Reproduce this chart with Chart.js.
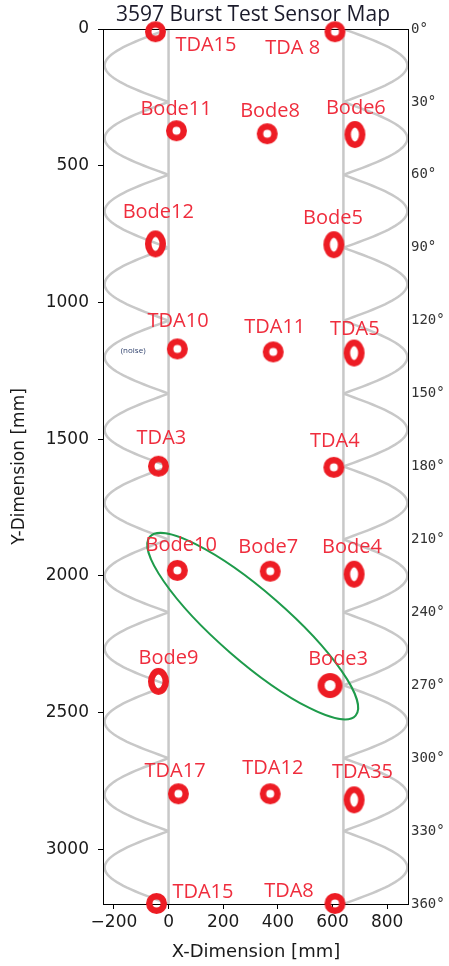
<!DOCTYPE html>
<html>
<head>
<meta charset="utf-8">
<script src="https://cdn.jsdelivr.net/npm/chart.js@4.4.0/dist/chart.umd.min.js"></script>
<style>
  html, body { margin: 0; padding: 0; background: #fff; }
  canvas { display: block; }
</style>
</head>
<body>
<canvas id="map" width="449" height="966"></canvas>
<script>
// ── sensor data [mm] ────────────────────────────────────────
const sensorNames = ['TDA15', 'TDA 8', 'Bode11', 'Bode8', 'Bode6', 'Bode12', 'Bode5', 'TDA10', 'TDA11', 'TDA5',
                     'TDA3', 'TDA4', 'Bode10', 'Bode7', 'Bode4', 'Bode9', 'Bode3', 'TDA17', 'TDA12', 'TDA35',
                     'TDA15', 'TDA8'];
const sensorX = [-48, 609, 29, 361, 682, -48, 605, 32, 383, 679,
                 -37, 605, 32, 372, 679, -37, 591, 36, 372, 679,
                 -44, 609];
const sensorY = [10, 10, 372, 383, 386, 786, 789, 1170, 1181, 1185,
                 1599, 1603, 1980, 1983, 1994, 2386, 2401, 2797, 2797, 2819,
                 3198, 3198];
// where each name is written [mm]
const labelX = [25, 354, -103, 262, 576, -168, 492, -77, 277, 591,
                -117, 518, -84, 255, 562, -110, 511, -88, 270, 598,
                14, 350];
const labelY = [60, 71, 295, 302, 291, 672, 694, 1068, 1090, 1097,
                1496, 1507, 1888, 1895, 1895, 2302, 2306, 2716, 2705, 2720,
                3156, 3152];
const noteText = '(noise)';
const noteX = -175, noteY = 1178;

// axes
const xTicks = [-200, 0, 200, 400, 600, 800];
const yTicks = [0, 500, 1000, 1500, 2000, 2500, 3000];
const degTicks = [0, 30, 60, 90, 120, 150, 180, 210, 240, 270, 300, 330, 360];
const pipeLength = 3200;   // mm  == 360 deg
const railX = [0, 640];    // weld seam rails
const helixReach = 234;    // how far each helix turn bulges out of its rail
const helixStepDeg = 30;

// highlighted group (green ring)
const groupCenter = { x: 308, y: 2184 };
const groupRadii = { a: 499, b: 127 };
const groupAngle = 41;

// marker look
const RED = '#ed1c24';
const tallRings = ['Bode6', 'Bode12', 'Bode5', 'TDA5', 'Bode4', 'Bode9', 'TDA35'];
const bigRings = ['Bode3'];

function ring(w, h, lw) {
  const c = document.createElement('canvas');
  c.width = w + 2; c.height = h + 2;
  const g = c.getContext('2d');
  g.strokeStyle = RED;
  g.lineWidth = lw;
  g.beginPath();
  g.ellipse(c.width / 2, c.height / 2, (w - lw) / 2, (h - lw) / 2, 0, 0, Math.PI * 2);
  g.stroke();
  return c;
}
const roundRing = ring(21, 21, 6.5);
const tallRing = ring(21, 27, 6.5);
const bigRing = ring(25, 25, 7);
const markerStyles = sensorNames.map(n =>
  bigRings.includes(n) ? bigRing : tallRings.includes(n) ? tallRing : roundRing);

// ── plugins ─────────────────────────────────────────────────
const backdrop = {
  id: 'backdrop',
  beforeDatasetsDraw(chart) {
    const { ctx, chartArea: a, scales: { x, y } } = chart;
    ctx.save();
    ctx.beginPath();
    ctx.rect(a.left, a.top, a.right - a.left, a.bottom - a.top);
    ctx.clip();
    ctx.strokeStyle = '#c8c8c8';
    ctx.lineWidth = 2.5;
    // rails
    railX.forEach(rx => {
      const px = x.getPixelForValue(rx);
      ctx.beginPath();
      ctx.moveTo(px, y.getPixelForValue(0));
      ctx.lineTo(px, y.getPixelForValue(pipeLength));
      ctx.stroke();
    });
    // helix turns between the rails' cusps
    const step = pipeLength * helixStepDeg / 360;
    const turns = Math.round(pipeLength / step);
    [[railX[0], -1], [railX[1], 1]].forEach(([rx, dir]) => {
      for (let k = 0; k < turns; k++) {
        ctx.beginPath();
        for (let i = 0; i <= 40; i++) {
          const s = i / 40;
          const px = x.getPixelForValue(rx + dir * helixReach * Math.sin(Math.PI * s));
          const py = y.getPixelForValue(k * step + s * step);
          i ? ctx.lineTo(px, py) : ctx.moveTo(px, py);
        }
        ctx.stroke();
      }
    });
    ctx.restore();
    // frame
    ctx.save();
    ctx.strokeStyle = '#000';
    ctx.lineWidth = 1;
    ctx.strokeRect(a.left + 0.5, a.top + 0.5, a.right - a.left - 1, a.bottom - a.top);
    ctx.restore();
  },
  afterDatasetsDraw(chart) {
    const { ctx, chartArea: a, scales: { x, y } } = chart;
    ctx.save();
    // group ring
    const sx = Math.abs(x.getPixelForValue(1) - x.getPixelForValue(0));
    const sy = Math.abs(y.getPixelForValue(1) - y.getPixelForValue(0));
    ctx.strokeStyle = '#1e9b4b';
    ctx.lineWidth = 2;
    ctx.beginPath();
    ctx.ellipse(x.getPixelForValue(groupCenter.x), y.getPixelForValue(groupCenter.y),
                groupRadii.a * sx, groupRadii.b * sy, groupAngle * Math.PI / 180, 0, Math.PI * 2);
    ctx.stroke();
    // names
    ctx.font = '20px "Open Sans"';
    ctx.fillStyle = '#ef2d3d';
    ctx.textAlign = 'left';
    ctx.textBaseline = 'middle';
    sensorNames.forEach((n, i) => {
      ctx.fillText(n, x.getPixelForValue(labelX[i]), y.getPixelForValue(labelY[i]));
    });
    ctx.font = '8px "Open Sans"';
    ctx.fillStyle = '#2d3f6b';
    ctx.fillText(noteText, x.getPixelForValue(noteX), y.getPixelForValue(noteY));
    // title
    ctx.font = '21px "Open Sans"';
    ctx.fillStyle = '#1b1b2b';
    ctx.textAlign = 'center';
    ctx.fillText('3597 Burst Test Sensor Map', (a.left + a.right) / 2 - 3, 15);
    ctx.restore();
  }
};

const tickFont = { family: 'DejaVu Sans', size: 17 };

new Chart(document.getElementById('map'), {
  type: 'scatter',
  data: {
    datasets: [{
      data: sensorX.map((v, i) => ({ x: v, y: sensorY[i] })),
      pointStyle: markerStyles,
      pointRadius: 10,
      pointHoverRadius: 10,
      clip: false
    }]
  },
  options: {
    responsive: false,
    devicePixelRatio: 1,
    animation: false,
    layout: { padding: { top: 29, left: 0, right: 0, bottom: 0 } },
    plugins: { legend: { display: false }, tooltip: { enabled: false }, title: { display: false } },
    scales: {
      x: {
        type: 'linear', position: 'bottom', min: -240, max: 880,
        afterBuildTicks: s => { s.ticks = xTicks.map(v => ({ value: v })); },
        afterFit: s => { s.height = 62; },
        grid: { drawOnChartArea: false, drawTicks: true, tickLength: 5, tickColor: '#000' },
        border: { display: false },
        ticks: {
          color: '#1a1a1a', font: tickFont, padding: 3, maxRotation: 0, autoSkip: false,
          callback: v => v < 0 ? '\u2212' + Math.abs(v) : String(v)
        },
        title: { display: true, text: 'X-Dimension [mm]', color: '#1a1a1a',
                 font: { family: 'DejaVu Sans', size: 18 }, padding: { top: 0, bottom: 3 } }
      },
      y: {
        type: 'linear', position: 'left', min: 0, max: pipeLength, reverse: true,
        afterBuildTicks: s => { s.ticks = yTicks.map(v => ({ value: v })); },
        afterFit: s => { s.width = 103; },
        grid: { drawOnChartArea: false, drawTicks: true, tickLength: 5, tickColor: '#000' },
        border: { display: false },
        ticks: { color: '#1a1a1a', font: tickFont, padding: 9, autoSkip: false, callback: v => String(v) },
        title: { display: true, text: 'Y-Dimension [mm]', color: '#1a1a1a',
                 font: { family: 'DejaVu Sans', size: 17 }, padding: { top: 9, bottom: 0 } }
      },
      deg: {
        type: 'linear', position: 'right', min: 0, max: 360, reverse: true,
        afterBuildTicks: s => { s.ticks = degTicks.map(v => ({ value: v })); },
        afterFit: s => { s.width = 40; },
        grid: { display: false, drawTicks: false },
        border: { display: false },
        ticks: { color: '#333', font: { family: 'DejaVu Sans Mono', size: 14 }, padding: 2,
                 autoSkip: false, callback: v => v + '\u00b0' }
      }
    }
  },
  plugins: [backdrop]
});
</script>
</body>
</html>
